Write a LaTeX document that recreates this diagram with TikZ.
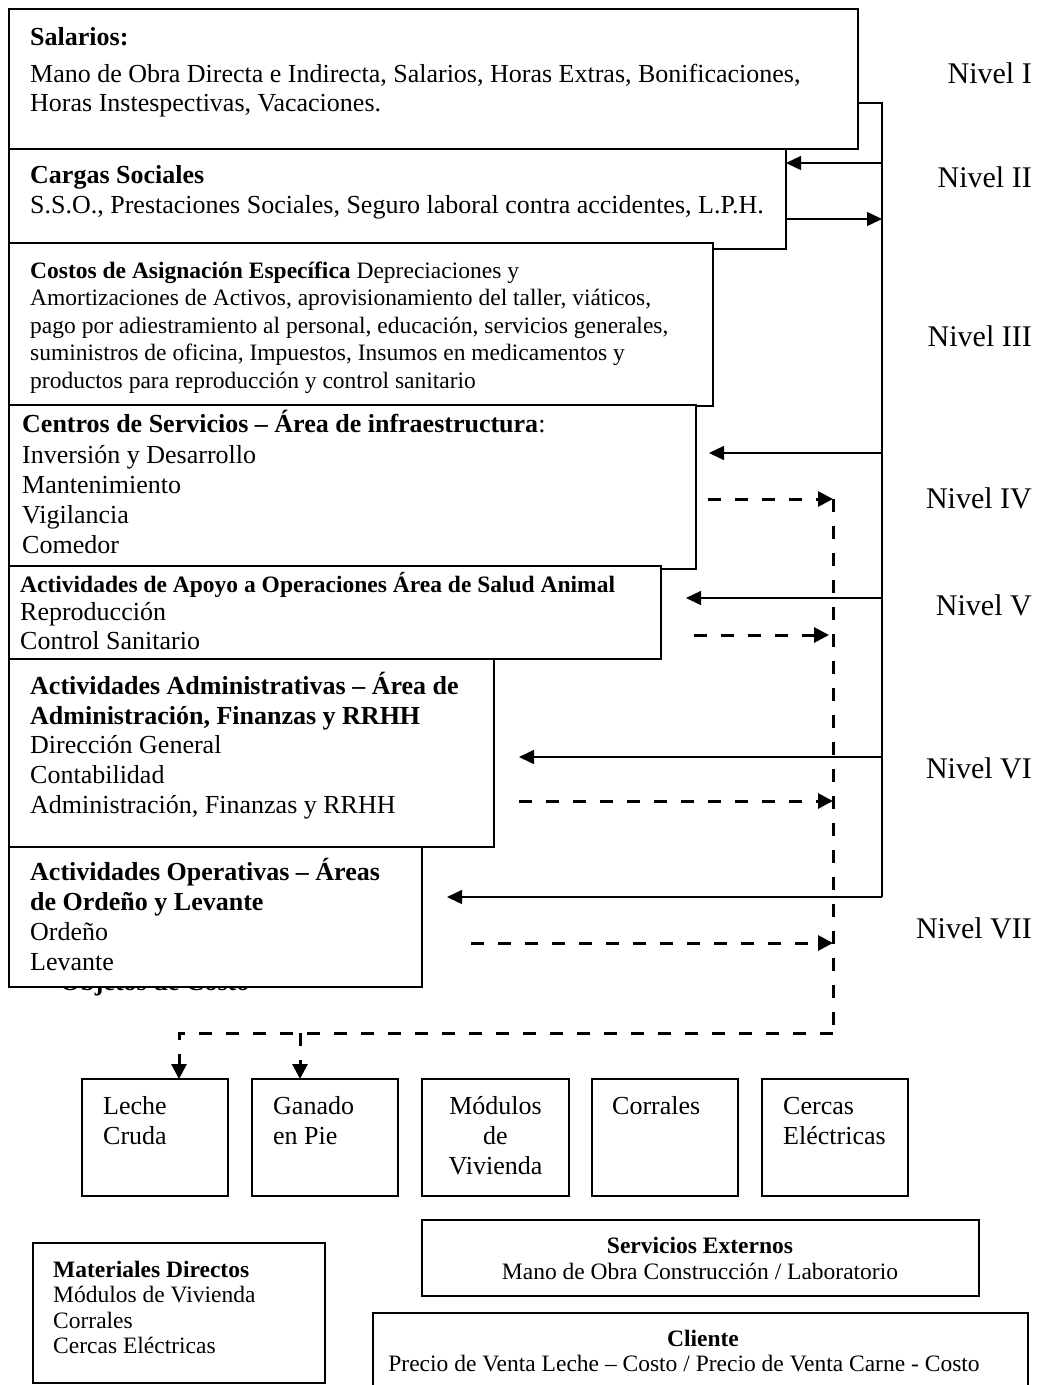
\documentclass[tikz,border=0pt]{standalone}
\usepackage{fontspec}
\setmainfont{Liberation Serif}
\usetikzlibrary{arrows.meta}
\begin{document}
\begin{tikzpicture}[x=1pt,y=-1pt,
  box/.style={draw, line width=1.6pt, fill=white, inner sep=0pt, outer sep=0pt, anchor=north west},
  tx/.style={anchor=base west, inner sep=0pt, font=\fontsize{26}{30}\selectfont},
  txb/.style={anchor=base west, inner sep=0pt, font=\fontsize{26}{30}\selectfont\bfseries},
  txs/.style={anchor=base west, inner sep=0pt, font=\fontsize{23.5}{27}\selectfont},
  txsb/.style={anchor=base west, inner sep=0pt, font=\fontsize{23.5}{27}\selectfont\bfseries},
  txc/.style={anchor=base, inner sep=0pt, font=\fontsize{23.5}{27}\selectfont},
  txcb/.style={anchor=base, inner sep=0pt, font=\fontsize{23.5}{27}\selectfont\bfseries},
  niv/.style={anchor=base east, inner sep=0pt, font=\fontsize{30}{34}\selectfont},
  wire/.style={line width=1.4pt},
  sarr/.style={line width=1.4pt, -{Triangle[length=15pt,width=14pt]}},
  darr/.style={line width=3pt, dash pattern=on 13pt off 14pt, -{Triangle[length=15pt,width=15pt]}},
  dline/.style={line width=3pt, dash pattern=on 13pt off 14pt}]
\useasboundingbox (0,0) rectangle (1042,1385);
\clip (0,0) rectangle (1042,1385);

% Level I
\node[box, minimum width=849pt, minimum height=140pt] (b1) at (9,9) {};
\node[txb] (b1a) at (30,45) {Salarios:};
\node[tx] (b1b) at (30,82) {Mano de Obra Directa e Indirecta, Salarios, Horas Extras, Bonificaciones,};
\node[tx] (b1c) at (30,111) {Horas Instespectivas, Vacaciones.};

% Level II
\node[box, minimum width=777pt, minimum height=100pt] (b2) at (9,149) {};
\node[txb] (b2a) at (30,183) {Cargas Sociales};
\node[tx] (b2b) at (30,213) {S.S.O., Prestaciones Sociales, Seguro laboral contra accidentes, L.P.H.};

% Level III
\node[box, minimum width=704pt, minimum height=163pt] (b3) at (9,243) {};
\node[txs] (b3a) at (30,278) {\textbf{Costos de Asignación Específica} Depreciaciones y};
\node[txs] (b3b) at (30,305.5) {Amortizaciones de Activos, aprovisionamiento del taller, viáticos,};
\node[txs] (b3c) at (30,333) {pago por adiestramiento al personal, educación, servicios generales,};
\node[txs] (b3d) at (30,360.5) {suministros de oficina, Impuestos, Insumos en medicamentos y};
\node[txs] (b3e) at (30,388) {productos para reproducción y control sanitario};

% Level IV
\node[box, minimum width=687pt, minimum height=164pt] (b4) at (9,405) {};
\node[tx] (b4a) at (22,432) {\textbf{Centros de Servicios – Área de infraestructura}:};
\node[tx] (b4b) at (22,463) {Inversión y Desarrollo};
\node[tx] (b4c) at (22,493) {Mantenimiento};
\node[tx] (b4d) at (22,523) {Vigilancia};
\node[tx] (b4e) at (22,553) {Comedor};

% Level V
\node[box, minimum width=652pt, minimum height=93pt] (b5) at (9,566) {};
\node[txsb] (b5a) at (20,592) {Actividades de Apoyo a Operaciones Área de Salud Animal};
\node[tx] (b5b) at (20,620) {Reproducción};
\node[tx] (b5c) at (20,649) {Control Sanitario};

% Level VI
\node[box, minimum width=485pt, minimum height=188pt] (b6) at (9,659) {};
\node[txb] (b6a) at (30,694) {Actividades Administrativas – Área de};
\node[txb] (b6b) at (30,724) {Administración, Finanzas y RRHH};
\node[tx] (b6c) at (30,753.5) {Dirección General};
\node[tx] (b6d) at (30,783) {Contabilidad};
\node[tx] (b6e) at (30,813) {Administración, Finanzas y RRHH};

% hidden caption under level VII
\node[txb] (obj) at (60,990) {Objetos de Costo};

% Level VII
\node[box, minimum width=413pt, minimum height=140pt] (b7) at (9,847) {};
\node[txb] (b7a) at (30,880) {Actividades Operativas – Áreas};
\node[txb] (b7b) at (30,910) {de Ordeño y Levante};
\node[tx] (b7c) at (30,940) {Ordeño};
\node[tx] (b7d) at (30,970) {Levante};

% Nivel labels
\node[niv] (n1) at (1032,83) {Nivel I};
\node[niv] (n2) at (1032,187) {Nivel II};
\node[niv] (n3) at (1032,346) {Nivel III};
\node[niv] (n4) at (1032,508) {Nivel IV};
\node[niv] (n5) at (1032,615) {Nivel V};
\node[niv] (n6) at (1032,778) {Nivel VI};
\node[niv] (n7) at (1032,938) {Nivel VII};

% cost objects
\node[box, minimum width=146pt, minimum height=117pt] (lc) at (82,1079) {};
\node[box, minimum width=146pt, minimum height=117pt] (gp) at (252,1079) {};
\node[box, minimum width=147pt, minimum height=117pt] (mv) at (422,1079) {};
\node[box, minimum width=146pt, minimum height=117pt] (co) at (592,1079) {};
\node[box, minimum width=146pt, minimum height=117pt] (ce) at (762,1079) {};
\node[tx] (lca) at (103,1114) {Leche};
\node[tx] (lcb) at (103,1144) {Cruda};
\node[tx] (gpa) at (273,1114) {Ganado};
\node[tx] (gpb) at (273,1144) {en Pie};
\node[tx, anchor=base] (mva) at (495.5,1114) {Módulos};
\node[tx, anchor=base] (mvb) at (495.5,1144) {de};
\node[tx, anchor=base] (mvc) at (495.5,1174) {Vivienda};
\node[tx] (coa) at (612,1114) {Corrales};
\node[tx] (cea) at (783,1114) {Cercas};
\node[tx] (ceb) at (783,1144) {Eléctricas};

% bottom boxes
\node[box, minimum width=292pt, minimum height=140pt] (md) at (33,1243) {};
\node[txsb] (mda) at (53,1277) {Materiales Directos};
\node[txs] (mdb) at (53,1302.5) {Módulos de Vivienda};
\node[txs] (mdc) at (53,1328) {Corrales};
\node[txs] (mdd) at (53,1353.5) {Cercas Eléctricas};

\node[box, minimum width=557pt, minimum height=76pt] (se) at (422,1220) {};
\node[txcb] (sea) at (700,1253) {Servicios Externos};
\node[txc] (seb) at (700,1279) {Mano de Obra Construcción / Laboratorio};

\node[box, minimum width=655pt, minimum height=100pt] (cl) at (373,1313) {};
\node[txcb] (cla) at (703,1346) {Cliente};
\node[txc] (clb) at (684,1371) {Precio de Venta Leche – Costo / Precio de Venta Carne - Costo};

% solid distribution bus
\coordinate (bus1) at (882,103);
\coordinate (bus7) at (882,897);
\draw[wire] (b1.east |- bus1) -- (bus1) -- (bus7);
\coordinate (in2) at (882,163);
\draw[sarr] (in2) -- (b2.east |- in2);
\coordinate (out2) at (882,219);
\draw[sarr] (b2.east |- out2) -- (out2);
\coordinate (in4) at (882,453);
\path (b4.east) ++(13,0) coordinate (e4);
\draw[sarr] (in4) -- (e4 |- in4);
\coordinate (in5) at (882,598);
\path (b5.east) ++(25,0) coordinate (e5);
\draw[sarr] (in5) -- (e5 |- in5);
\coordinate (in6) at (882,757);
\path (b6.east) ++(25,0) coordinate (e6);
\draw[sarr] (in6) -- (e6 |- in6);
\path (b7.east) ++(25,0) coordinate (e7);
\draw[sarr] (bus7) -- (e7 |- bus7);

% dashed flows to cost objects
\coordinate (dv1) at (833,499);
\coordinate (dv2) at (833,1033);
\path (b4.east) ++(12,0) coordinate (s4);
\draw[darr] (s4 |- dv1) -- (dv1);
\coordinate (dt5) at (829,635);
\path (b5.east) ++(33,0) coordinate (s5);
\draw[darr] (s5 |- dt5) -- (dt5);
\coordinate (dt6) at (833,801);
\path (b6.east) ++(25,0) coordinate (s6);
\draw[darr] (s6 |- dt6) -- (dt6);
\coordinate (dt7) at (833,943);
\path (b7.east) ++(49,0) coordinate (s7);
\draw[darr] (s7 |- dt7) -- (dt7);
\path (lc.north) ++(24,0) coordinate (lct);
\path (gp.north) ++(-25,0) coordinate (gpt);
\draw[dline] (dv1) -- (dv2);
\draw[darr] (dv2) -- (lct |- dv2) -- (lct);
\draw[darr] (gpt |- dv2) -- (gpt);
\end{tikzpicture}
\end{document}
